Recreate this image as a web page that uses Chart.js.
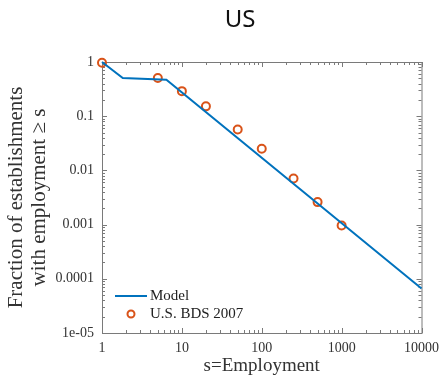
<!DOCTYPE html>
<html lang="en">
<head>
<meta charset="UTF-8">
<title>US</title>
<script src="https://cdn.jsdelivr.net/npm/chart.js"></script>
<style>
  body { margin: 0; background: #fff; }
</style>
</head>
<body>
<canvas id="chart" width="446" height="377"></canvas>
<script>
// model curve and BDS 2007 data
const modelX = [1, 1.82, 6.4, 10000];
const modelY = [1, 0.505, 0.47, 0.000066];
const bdsX = [1, 5, 10, 20, 50, 100, 250, 500, 1000];
const bdsY = [0.97, 0.505, 0.29, 0.152, 0.057, 0.025, 0.0071, 0.0026, 0.00096];
const xTicks = [1, 10, 100, 1000, 10000];
const xTickLabels = ['1', '10', '100', '1000', '10000'];
const yTicks = [1e-5, 1e-4, 1e-3, 1e-2, 0.1, 1];
const yTickLabels = ['1e-05', '0.0001', '0.001', '0.01', '0.1', '1'];

const blue = '#0072BD';
const orange = '#D95319';
const serif = '"Liberation Serif", "DejaVu Serif", serif';

// axes box with inward ticks on all four sides
const frame = {
  id: 'frame',
  beforeDatasetsDraw(chart) {
    const {ctx, chartArea: a, scales: {x, y}} = chart;
    ctx.save();
    ctx.strokeStyle = '#7a7a7a';
    ctx.lineWidth = 1;
    ctx.strokeRect(a.left + 0.5, a.top + 0.5, a.right - a.left, a.bottom - a.top);
    ctx.beginPath();
    const tickX = (v, len) => {
      const px = Math.round(x.getPixelForValue(v)) + 0.5;
      ctx.moveTo(px, a.bottom); ctx.lineTo(px, a.bottom - len);
      ctx.moveTo(px, a.top); ctx.lineTo(px, a.top + len);
    };
    const tickY = (v, len) => {
      const py = Math.round(y.getPixelForValue(v)) + 0.5;
      ctx.moveTo(a.left, py); ctx.lineTo(a.left + len, py);
      ctx.moveTo(a.right, py); ctx.lineTo(a.right - len, py);
    };
    xTicks.forEach((v, i) => {
      tickX(v, 5);
      if (i < xTicks.length - 1) for (let m = 2; m <= 9; m++) tickX(v * m, 3);
    });
    yTicks.forEach((v, i) => {
      tickY(v, 5);
      if (i < yTicks.length - 1) for (let m = 2; m <= 9; m++) tickY(v * m, 3);
    });
    ctx.stroke();
    ctx.restore();
  },
  afterDraw(chart) {
    const {ctx, chartArea: a} = chart;
    ctx.save();
    // figure title
    ctx.fillStyle = '#111';
    ctx.font = '24px "Noto Sans", sans-serif';
    ctx.textAlign = 'center';
    ctx.textBaseline = 'middle';
    ctx.fillText('US', 240, 20);
    // legend in the lower left corner
    ctx.font = '15px ' + serif;
    ctx.textAlign = 'left';
    ctx.fillStyle = '#222';
    ctx.strokeStyle = blue;
    ctx.lineWidth = 2;
    ctx.beginPath();
    ctx.moveTo(a.left + 13, a.bottom - 37);
    ctx.lineTo(a.left + 45, a.bottom - 37);
    ctx.stroke();
    ctx.fillText(chart.data.datasets[0].label, a.left + 48, a.bottom - 37);
    ctx.strokeStyle = orange;
    ctx.beginPath();
    ctx.arc(a.left + 29, a.bottom - 19, 3.5, 0, Math.PI * 2);
    ctx.stroke();
    ctx.fillText(chart.data.datasets[1].label, a.left + 48, a.bottom - 19);
    ctx.restore();
  }
};

new Chart(document.getElementById('chart'), {
  type: 'scatter',
  data: {
    datasets: [
      {
        label: 'Model',
        data: modelX.map((v, i) => ({x: v, y: modelY[i]})),
        showLine: true,
        borderColor: blue,
        borderWidth: 2,
        pointRadius: 0,
        clip: false
      },
      {
        label: 'U.S. BDS 2007',
        data: bdsX.map((v, i) => ({x: v, y: bdsY[i]})),
        borderColor: orange,
        backgroundColor: 'rgba(0,0,0,0)',
        borderWidth: 2,
        pointRadius: 4,
        clip: false
      }
    ]
  },
  options: {
    responsive: false,
    animation: false,
    layout: { padding: { top: 62, right: 21, left: 0, bottom: 0 } },
    plugins: { legend: { display: false }, tooltip: { enabled: false } },
    scales: {
      x: {
        type: 'logarithmic',
        min: 1,
        max: 10000,
        grid: { display: false, drawTicks: false },
        border: { display: false },
        afterBuildTicks: s => { s.ticks = xTicks.map(v => ({value: v})); },
        afterFit: s => { s.height = 44; },
        ticks: {
          autoSkip: false,
          maxRotation: 0,
          padding: 7,
          color: '#333',
          font: { family: serif, size: 14 },
          callback: (v, i) => xTickLabels[i]
        },
        title: {
          display: true,
          text: 's=Employment',
          color: '#333',
          font: { family: serif, size: 19, lineHeight: 1.2 },
          padding: { top: 0, bottom: 0 }
        }
      },
      y: {
        type: 'logarithmic',
        min: 1e-5,
        max: 1,
        grid: { display: false, drawTicks: false },
        border: { display: false },
        afterBuildTicks: s => { s.ticks = yTicks.map(v => ({value: v})); },
        afterFit: s => { s.width = 102; },
        ticks: {
          autoSkip: false,
          padding: 8,
          color: '#333',
          font: { family: serif, size: 14 },
          callback: (v, i) => yTickLabels[i]
        },
        title: {
          display: true,
          text: ['Fraction of establishments', 'with employment \u2265 s'],
          color: '#333',
          font: { family: serif, size: 21, lineHeight: 1.1 },
          padding: { top: 5, bottom: 0 }
        }
      }
    }
  },
  plugins: [frame]
});
</script>
</body>
</html>
